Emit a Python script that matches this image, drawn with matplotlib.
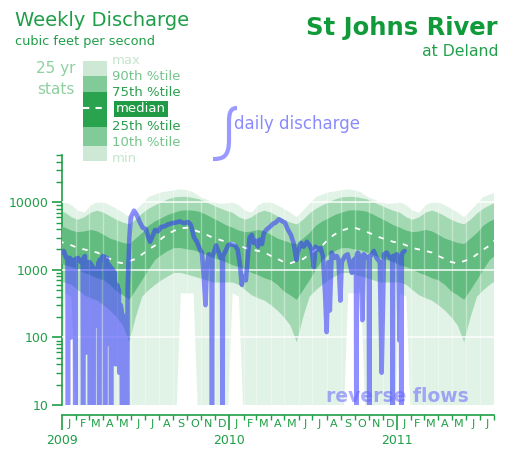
import numpy as np
import matplotlib.pyplot as plt
from matplotlib.patches import Rectangle, PathPatch
from matplotlib.path import Path
from matplotlib.ticker import LogLocator, FuncFormatter, NullFormatter, FixedLocator

W, H = 526, 467

# 25 yr weekly stats (cfs), read at two-week steps, by day of year
stat_doy = np.arange(7, 365, 14)
q_max = [10000, 9000, 7500, 7000, 9000, 10000, 10000, 9000, 8000, 7000, 6000, 7500, 9500,
         12000, 13000, 14000, 14500, 15000, 15500, 15000, 14000, 12000, 11000, 10000, 9500, 9500]
q_90 = [7000, 6000, 5500, 6000, 7000, 7500, 7000, 6200, 5500, 5000, 4700, 5500, 6800,
        8000, 9000, 10000, 11000, 11800, 12000, 12000, 11500, 11000, 10000, 9000, 8200, 7500]
q_75 = [4200, 3800, 3600, 3700, 3900, 3700, 3300, 2900, 2700, 2500, 2400, 2900, 3500,
        4500, 5200, 5800, 6500, 7000, 7500, 7600, 7500, 7200, 6500, 5800, 5200, 4600]
q_50 = [2500, 2300, 2100, 2000, 1900, 1800, 1600, 1450, 1300, 1250, 1350, 1450, 1700,
        2000, 2300, 2900, 3400, 3800, 4100, 4200, 3900, 3600, 3300, 3000, 2800, 2600]
q_25 = [1170, 1100, 1000, 900, 830, 750, 700, 600, 480, 420, 360, 500, 700,
        1000, 1400, 1650, 1900, 2100, 2100, 2000, 1950, 1800, 1650, 1500, 1400, 1300]
q_10 = [650, 600, 500, 420, 380, 350, 300, 250, 200, 150, 85, 200, 400,
        500, 600, 700, 800, 900, 900, 850, 800, 750, 700, 650, 650, 650]
# 0 = reverse flow (below the axis)
q_min = [450, 400, 0, 0, 0, 0, 0, 0, 0, 0, 0, 0, 0,
         0, 0, 0, 0, 0, 450, 450, 450, 0, 0, 0, 0, 0]

# daily discharge 2009-2010 (days since 2009-01-01, cfs); 0 = reverse flow
flow_day = [1, 4, 9, 12, 13, 14, 17, 20, 24, 28, 29, 30, 35, 41, 45, 46, 47, 50, 53, 57,
            60, 61, 62, 64, 67, 68, 69, 72, 75, 78, 80, 81, 82, 85, 89, 93, 94, 95, 98, 100,
            102, 106, 107, 108, 111, 115, 117, 120, 124, 125, 128, 130, 131, 132, 134, 137,
            141, 142, 143, 147, 150, 157, 163, 170, 176, 183, 187, 192, 196, 203, 209, 216,
            224, 231, 240, 248, 257, 266, 275, 281, 288, 294, 301, 305, 309, 313, 316, 320,
            325, 326, 327, 328, 330, 336, 342, 346, 349, 350, 351, 355, 362,
            368, 377, 383, 388, 392, 396, 401, 405, 409, 414, 418, 422, 427, 431, 436, 440,
            447, 453, 460, 466, 473, 479, 486, 492, 499, 505, 511, 514, 521, 527, 534, 540,
            545, 549, 553, 560, 564, 569, 574, 577, 581, 584, 588, 595, 599, 603, 607, 610,
            617, 623, 628, 632, 636, 641, 642, 643, 645, 651, 655, 658, 665, 669, 670, 671,
            673, 680, 686, 693, 697, 702, 708, 715, 720, 721, 722, 726, 730, 734, 736, 738,
            739, 740, 741, 743, 747]
flow_cfs = [1800, 1900, 1500, 1500, 0, 1500, 1500, 100, 1400, 1400, 0, 1450, 1500, 1300, 1400,
            0, 1500, 1600, 60, 1300, 1300, 0, 1250, 1200, 1100, 0, 1050, 1000, 150, 1100, 1300,
            0, 1400, 1400, 1600, 1550, 0, 1500, 1500, 80, 1200, 1100, 0, 1050, 1000, 900, 40,
            600, 500, 30, 300, 250, 0, 220, 200, 100, 60, 0, 500, 3000, 6000, 7500, 6500, 5000,
            4200, 4000, 3200, 2600, 3000, 3900, 3700, 4300, 4400, 4700, 4900, 5000, 5200, 4900,
            5100, 4600, 3000, 2600, 2000, 1800, 800, 300, 1200, 1700, 1500, 1500, 0, 1600,
            1700, 2300, 1800, 1500, 1500, 0, 1600, 1800, 2300,
            2400, 2300, 2000, 1200, 600, 800, 700, 1500, 3000, 3300, 2500, 2700, 2200, 2800,
            2400, 3500, 4000, 4300, 4800, 5000, 5600, 5300, 5000, 4000, 3300, 2500, 1400, 1800,
            2500, 2200, 2600, 2300, 1900, 1100, 2200, 2000, 2100, 1600, 400, 120, 1300, 250,
            1800, 1500, 1600, 1400, 350, 1300, 1600, 1700, 1200, 900, 1400, 1500, 0, 1700,
            1800, 1500, 180, 1700, 1500, 1500, 0, 1600, 1600, 1900, 1500, 1300, 30, 1700, 1800,
            1500, 1500, 0, 1600, 1600, 1700, 1200, 90, 1500, 1500, 0, 1700, 1800, 1900]

months = "JFMAMJJASOND"
years = [2009, 2010, 2011]

c_light = '#e1f2e6'
c_mid = '#a3d9b2'
c_dark = '#62bc7f'
green = '#1e9e46'

fig = plt.figure(figsize=(W / 100, H / 100), dpi=100)
ax = fig.add_axes([62 / W, 1 - 405 / H, (494 - 62) / W, (405 - 155) / H])
ax.set_yscale('log')

# repeat the annual stats over every year on the chart
yr_start = [(np.datetime64(f'{y}-01-01') - np.datetime64('2009-01-01')).astype(int)
            for y in [2008, 2009, 2010, 2011]]
sx = np.concatenate([stat_doy + s for s in yr_start])
def tile(a):
    return np.tile(np.clip(np.array(a, float), 1, None), 4)

ax.fill_between(sx, tile(q_min), tile(q_max), color=c_light, lw=0, zorder=1)
ax.fill_between(sx, tile(q_10), tile(q_90), color=c_mid, lw=0, zorder=2)
ax.fill_between(sx, tile(q_25), tile(q_75), color=c_dark, lw=0, zorder=3)
ax.plot(sx, tile(q_50), color='white', lw=1.3, dashes=(3, 4), zorder=4)

# month boundaries
m_edges = np.arange(np.datetime64('2009-01'), np.datetime64('2011-09'), np.timedelta64(1, 'M'))
m_days = (m_edges.astype('datetime64[D]') - np.datetime64('2009-01-01')).astype(int)
for d in m_days[1:-1]:
    ax.axvline(d, color='white', lw=1, alpha=0.35, zorder=5)
for v in [100, 1000, 10000]:
    ax.axhline(v, color='white', lw=1.3, alpha=0.8, zorder=5)

ax.plot(flow_day, np.clip(np.array(flow_cfs, float), 1, None), color='#3333ff',
        alpha=0.55, lw=3.3, solid_joinstyle='round', solid_capstyle='round', zorder=6)

ax.set_xlim(0, m_days[-1])
ax.set_ylim(10, 50000)
for s in ['top', 'right', 'bottom']:
    ax.spines[s].set_visible(False)
ax.spines['left'].set_color(green)
ax.spines['left'].set_linewidth(1.2)
ax.set_xticks([])
ax.yaxis.set_major_locator(FixedLocator([10, 100, 1000, 10000]))
ax.yaxis.set_major_formatter(FuncFormatter(lambda v, _: f"{v:.0f}"))
ax.yaxis.set_minor_locator(LogLocator(base=10, subs=np.arange(2, 10)))
ax.yaxis.set_minor_formatter(NullFormatter())
ax.tick_params(axis='y', which='major', colors=green, length=7, width=1.2, labelsize=9, pad=3)
ax.tick_params(axis='y', which='minor', colors=green, length=4.5, width=1)

# month strip
ax2 = fig.add_axes([62 / W, 1 - 430 / H, (494 - 62) / W, 15 / H])
ax2.set_xlim(0, m_days[-1])
ax2.set_ylim(0, 1)
for s in ['left', 'right', 'bottom']:
    ax2.spines[s].set_visible(False)
ax2.spines['top'].set_color(green)
ax2.spines['top'].set_linewidth(1.2)
ax2.set_yticks([])
ax2.xaxis.tick_top()
ax2.set_xticks(yr_start[1:])
ax2.set_xticks(m_days, minor=True)
ax2.tick_params(axis='x', which='major', direction='in', length=11, width=1.2,
                colors=green, labeltop=False)
ax2.tick_params(axis='x', which='minor', direction='in', length=3.5, width=1,
                colors=green, labeltop=False)
for i in range(len(m_days) - 1):
    ax2.text((m_days[i] + m_days[i + 1]) / 2, 0.4, months[i % 12], ha='center', va='center',
             fontsize=8, color=green)
for y, d in zip(years, yr_start[1:]):
    fig.text((62 + d / 365 * 167.5) / W, 1 - 440 / H, str(y), ha='center', va='center',
             fontsize=9, color=green)

# titles
fig.text(15 / W, 1 - 20 / H, "Weekly Discharge", fontsize=14, color='#1f9e48', va='center')
fig.text(15 / W, 1 - 41 / H, "cubic feet per second", fontsize=9.3, color='#1f9e48', va='center')
fig.text(498 / W, 1 - 28 / H, "St Johns River", fontsize=17.5, fontweight='bold',
         color='#119a3a', ha='right', va='center')
fig.text(498 / W, 1 - 52 / H, "at Deland", fontsize=11.3, color='#22a04b', ha='right', va='center')

# legend of stats
fig.text(56 / W, 1 - 68 / H, "25 yr", fontsize=11, color='#8fd0a0', ha='center', va='center')
fig.text(56 / W, 1 - 89 / H, "stats", fontsize=11, color='#8fd0a0', ha='center', va='center')
boxes = [(61, 76, '#cde9d6'), (76, 92, '#80cb97'), (92, 127, '#2aa34e'),
         (127, 146, '#80cb97'), (146, 161, '#cde9d6')]
for top, bot, c in boxes:
    fig.patches.append(Rectangle((83 / W, 1 - bot / H), 24 / W, (bot - top) / H,
                                 transform=fig.transFigure, color=c, lw=0))
fig.lines.append(plt.Line2D([83 / W, 107 / W], [1 - 108 / H, 1 - 108 / H], color='white',
                            lw=1.5, dashes=(3, 3), transform=fig.transFigure))
labels = [("max", 61, '#c4e6cd'), ("90th %tile", 77, '#74c48c'), ("75th %tile", 93, '#2a9e4c'),
          ("25th %tile", 127, '#2a9e4c'), ("10th %tile", 143, '#74c48c'), ("min", 159, '#c4e6cd')]
for t, y, c in labels:
    fig.text(112 / W, 1 - y / H, t, fontsize=9.5, color=c, va='center')
fig.text(116 / W, 1 - 109 / H, "median", fontsize=9.5, color='white', va='center',
         bbox=dict(boxstyle='square,pad=0.15', fc='#1f9a45', ec='none'))

# daily discharge label with curve
pts = [(213, 159), (223, 159), (229, 157), (229, 140), (229, 122), (229, 112), (231, 108),
       (237, 108)]
codes = [Path.MOVETO, Path.CURVE4, Path.CURVE4, Path.CURVE4, Path.LINETO, Path.CURVE4,
         Path.CURVE4, Path.CURVE4]
path = Path([(x / W, 1 - y / H) for x, y in pts], codes)
fig.patches.append(PathPatch(path, fc='none', ec='#9999ff', lw=3, transform=fig.transFigure))
fig.text(234 / W, 1 - 124 / H, "daily discharge", fontsize=12, color='#8a8aff', va='center')

fig.text(397 / W, 1 - 396 / H, "reverse flows", fontsize=13.5, fontweight='bold',
         color='#6666ff', alpha=0.55, ha='center', va='center')

fig.savefig("out.png", dpi=100)
